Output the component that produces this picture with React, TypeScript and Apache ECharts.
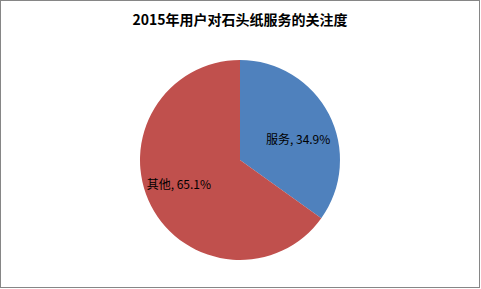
import React, { useEffect, useRef } from "react";
import * as echarts from "echarts";

const titleText = "2015年用户对石头纸服务的关注度";
const categories = ["服务", "其他"];
const values = [34.9, 65.1];
const colors = ["#4F81BD", "#C0504D"];

export default function App() {
  const ref = useRef<HTMLDivElement>(null);
  useEffect(() => {
    document.body.style.margin = "0";
    const chart = echarts.init(ref.current!, undefined, { renderer: "svg" });
    chart.setOption({
      animation: false,
      backgroundColor: "#ffffff",
      title: {
        text: titleText,
        left: "center",
        top: 6,
        textStyle: {
          fontFamily: "'Noto Sans CJK SC', serif",
          fontSize: 14,
          fontWeight: "bold",
          color: "#000000",
        },
      },
      series: [
        {
          type: "pie",
          center: [239, 159],
          radius: [0, 100],
          startAngle: 90,
          clockwise: true,
          silent: true,
          label: {
            show: true,
            position: "inside",
            formatter: (p: any) => `${p.name}, ${p.value.toFixed(1)}%`,
            fontFamily: "'Noto Sans CJK SC', sans-serif",
            fontSize: 12,
            color: "#000000",
          },
          labelLine: { show: false },
          data: categories.map((c, i) => ({
            name: c,
            value: values[i],
            itemStyle: { color: colors[i] },
            label: { offset: i === 0 ? [11, 3] : [-14, -1] },
          })),
        },
      ],
    });
    return () => chart.dispose();
  }, []);
  return (
    <div
      style={{
        width: 481,
        height: 289,
        boxSizing: "border-box",
        position: "relative",
      }}
    >
      <div
        ref={ref}
        style={{
          position: "absolute",
          left: 0,
          top: 0,
          width: 480,
          height: 288,
          boxSizing: "border-box",
          border: "1px solid #868686",
        }}
      />
    </div>
  );
}
